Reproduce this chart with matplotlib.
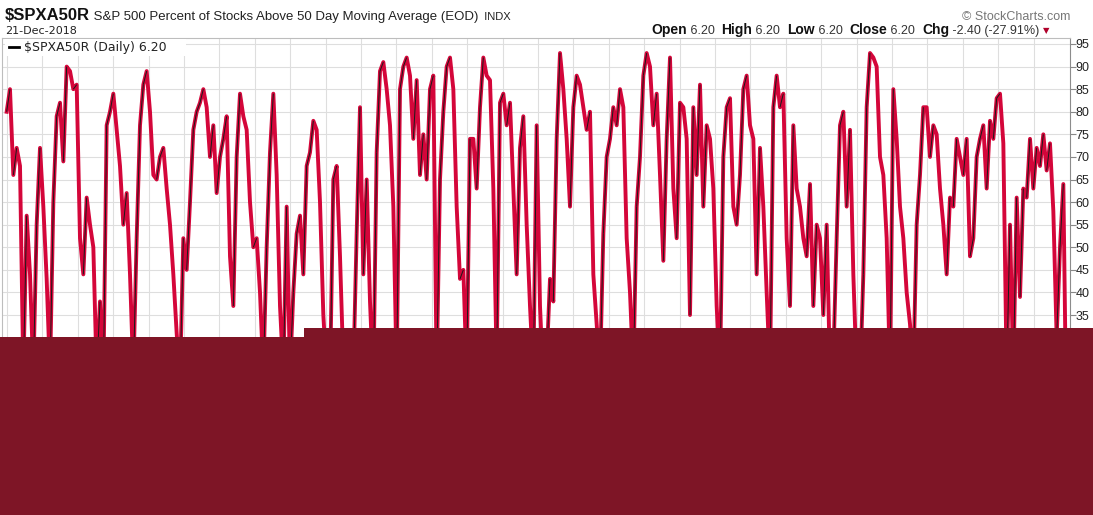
import matplotlib
matplotlib.use("Agg")
import matplotlib.pyplot as plt
import numpy as np
from matplotlib.collections import LineCollection
from matplotlib.patches import Rectangle
from matplotlib.lines import Line2D

# $SPXA50R daily closes left to right (values under the
# covered strip are only rough guesses)
closes_part1 = [80, 85, 66, 72, 68, 22, 57, 44, 22, 55, 72, 59, 43, 22, 60, 79, 82, 69, 90, 89,
                85, 86, 52, 44, 61, 55, 50, 22, 38, 20, 77, 80, 84, 76, 68, 55, 62, 44, 22, 52,
                77, 86, 89, 80, 66, 65, 70, 72, 63, 55, 44, 31, 20, 52, 45, 60, 76, 80, 82, 85,
                81, 70, 77, 62, 70, 74, 79, 48, 37, 70, 84, 79, 76, 60, 50, 52, 40, 22, 50, 71,
                84, 66, 37, 22, 59, 22, 40, 53]
closes_part2 = [57, 44, 68, 71, 78, 76, 60, 35, 22, 20, 65, 68, 48, 24, 20, 25, 22, 53, 81, 44,
                65, 38, 20, 71, 89, 91, 85, 77, 59, 22, 85, 90, 92, 88, 74, 87, 66, 75, 65, 85,
                88, 22, 65, 80, 90, 92, 85, 59, 43, 45, 22, 74, 74, 63, 81, 92, 88, 87, 63, 24,
                82, 84, 77, 82, 63, 44, 72, 79, 55, 37, 22, 77, 37, 20, 25, 43, 38, 74, 93, 85,
                74, 59, 81, 88, 86, 81, 76, 80, 44, 33, 22, 53, 70, 74, 81, 77, 85, 81, 52, 40,
                22, 59, 70, 88, 93, 90, 77, 84, 66, 47, 74, 92, 63, 52, 82, 81, 74, 35, 81, 66]
closes_part3 = [86, 59, 77, 74, 63, 37, 22, 70, 81, 83, 59, 55, 66, 85, 88, 77, 74, 44, 72, 59,
                40, 22, 81, 88, 81, 84, 52, 37, 77, 63, 59, 52, 48, 64, 37, 55, 52, 35, 55, 22,
                25, 52, 77, 80, 59, 76, 44, 22, 20, 44, 81, 93, 92, 90, 70, 66, 52, 22, 85, 74,
                59, 52, 40, 33, 22, 55, 66, 81, 81, 70, 77, 75, 63, 55, 44, 61, 59, 74, 70, 66,
                74, 48, 52, 70, 74, 77, 63, 78, 74, 83]
closes_part4 = [84, 73, 22, 55, 22, 61, 39, 63, 61, 74, 63, 72, 68, 75, 67, 73, 58, 30, 50, 64, 6.2]

y_ticks = list(range(0, 100, 5))

W, H = 1093, 515
red = "#d4063a"

values = np.array(closes_part1 + closes_part2 + closes_part3 + closes_part4, dtype=float)
idx = np.arange(len(values))

# pixel helpers (first close sits at ~6.7px, one close every ~3.3px)
px_step = 10 / 3
x0_px = 20 / 3


def px_to_idx(px):
    return (px - x0_px) / px_step


fig = plt.figure(figsize=(W / 100, H / 100), dpi=100)
fig.patch.set_facecolor("white")
ax = fig.add_axes([2 / W, 1 - 480 / H, (1070 - 2) / W, (480 - 38) / H])

ax.set_xlim(px_to_idx(2), px_to_idx(1070))
ax.set_ylim(95 - (480 - 44) / 4.517, 95 + 6 / 4.517)

# date grid
ax.set_xticks([px_to_idx(7 + 35.4 * k) for k in range(30)])
ax.tick_params(axis="x", length=0, labelbottom=False)
ax.yaxis.tick_right()
ax.set_yticks(y_ticks)
ax.set_yticklabels([str(t) for t in y_ticks])
ax.tick_params(axis="y", length=4, width=0.8, color="#888888", pad=0,
               labelsize=9, labelcolor="#222222")
for lab in ax.get_yticklabels():
    lab.set_family("Liberation Sans")
ax.grid(True, color="#dedede", lw=0.8)
ax.set_axisbelow(True)
for s in ["left", "top", "bottom"]:
    ax.spines[s].set_color("#bdbdbd")
    ax.spines[s].set_linewidth(0.8)
ax.spines["right"].set_color("#8c8c8c")
ax.spines["right"].set_linewidth(0.8)

# price trace: red everywhere, thin black core on up-days
ax.plot(idx, values, color=red, lw=2.8, zorder=3)
ups = [[(i, values[i]), (i + 1, values[i + 1])] for i in range(len(values) - 1)
       if values[i + 1] > values[i]]
ax.add_collection(LineCollection(ups, colors="#1a1a1a", linewidths=0.7, zorder=4))

fig.canvas.draw()
renderer = fig.canvas.get_renderer()


def chain(pieces, x, y):
    # draw text pieces one after another from pixel x, baseline pixel y
    for txt, kw in pieces:
        t = fig.text(x / W, 1 - y / H, txt, family="Liberation Sans", **kw)
        x = t.get_window_extent(renderer).x1
    return x


# header
chain([("$SPXA50R", dict(weight="bold", fontsize=12, color="#111111")),
       (" S&P 500 Percent of Stocks Above 50 Day Moving Average (EOD)",
        dict(fontsize=9.5, color="#222222")),
       ("  INDX", dict(fontsize=8, color="#222222"))], 5, 20)
fig.text(5 / W, 1 - 34 / H, "21-Dec-2018", family="DejaVu Sans", fontsize=8, color="#222222")
fig.text(1070 / W, 1 - 20 / H, "\u00a9 StockCharts.com", family="Liberation Sans",
         fontsize=9, color="#777777", ha="right")

bold = dict(weight="bold", fontsize=10, color="#111111")
norm = dict(fontsize=9, color="#333333")
x_end = chain([("Open", bold), (" 6.20  ", norm), ("High", bold), (" 6.20  ", norm),
               ("Low", bold), (" 6.20  ", norm), ("Close", bold), (" 6.20  ", norm),
               ("Chg", bold), (" -2.40 (-27.91%)", norm)], 651, 34)
fig.text((x_end + 3) / W, 1 - 33 / H, "\u25bc", family="DejaVu Sans", fontsize=6, color="#b0002a")

# legend box
fig.patches.append(Rectangle((5 / W, 1 - 56 / H), 181 / W, 17 / H, transform=fig.transFigure,
                             facecolor="white", edgecolor="none", zorder=5))
fig.lines.append(Line2D([9 / W, 19 / W], [1 - 47 / H, 1 - 47 / H], transform=fig.transFigure,
                        color="black", lw=2, zorder=6))
fig.text(24 / W, 1 - 51 / H, "$SPXA50R (Daily) 6.20", family="DejaVu Sans", fontsize=9,
         color="#222222", zorder=6)

# maroon block over the lower part
for (x0, y0, x1) in [(0, 337, 305), (304, 328, W)]:
    fig.patches.append(Rectangle((x0 / W, 0), (x1 - x0) / W, 1 - y0 / H,
                                 transform=fig.transFigure, facecolor="#7e1526",
                                 edgecolor="none", zorder=10))

fig.savefig("out.png", dpi=100)
